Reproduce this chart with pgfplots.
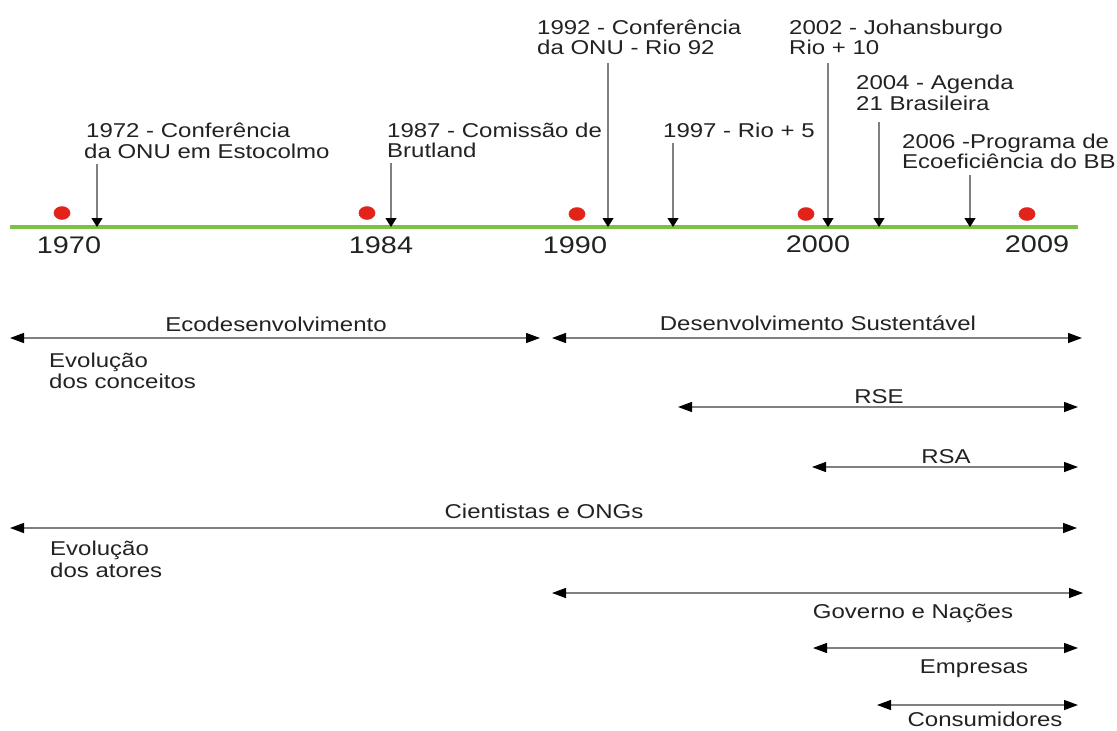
\documentclass[border=0pt]{standalone}
\usepackage{fontspec}
\setmainfont{Liberation Sans}[FakeStretch=1.2]
\usepackage{pgfplots}
\pgfplotsset{compat=1.18}
\usetikzlibrary{arrows.meta}
\definecolor{tlgreen}{HTML}{7CC242}
\definecolor{dotred}{HTML}{E2231A}
\definecolor{txt}{HTML}{222222}
\definecolor{ln}{HTML}{808080}
\newcommand\lab{\fontsize{20}{24}\selectfont}
\newcommand\yr{\fontsize{24}{28}\selectfont}
\tikzset{
  L/.style={inner sep=0pt, text=txt, font=\lab},
  Y/.style={inner sep=0pt, text=txt, font=\yr},
  harrow/.style={ln, line width=1.3pt, {Triangle[length=14pt,width=10pt,color=black]}-{Triangle[length=14pt,width=10pt,color=black]}},
  varrow/.style={ln, line width=1.2pt, -{Triangle[length=9pt,width=11pt,color=black]}}}
\begin{document}
\begin{tikzpicture}
\begin{axis}[scale only axis, width=1117pt, height=731pt,
  xmin=0, xmax=1117, ymin=0, ymax=731, y dir=reverse,
  hide axis, clip=false]
% timeline
\addplot[tlgreen, line width=4pt] coordinates {(10,227) (1078,227)};
% event arrows
\addplot[varrow] coordinates {(97,164) (97,227)};
\addplot[varrow] coordinates {(391,163) (391,227)};
\addplot[varrow] coordinates {(608,63) (608,227)};
\addplot[varrow] coordinates {(673,143) (673,227)};
\addplot[varrow] coordinates {(828,63) (828,227)};
\addplot[varrow] coordinates {(879,122) (879,227)};
\addplot[varrow] coordinates {(970,175) (970,227)};
% red dots
\addplot[only marks, mark=*, mark size=6.5pt, color=dotred, mark options={xscale=1.25}]
  coordinates {(62,213) (367,213) (577,214) (806,214) (1027,214)};
% period arrows
\addplot[harrow] coordinates {(10,338) (540,338)};
\addplot[harrow] coordinates {(552,338) (1082,338)};
\addplot[harrow] coordinates {(678,407) (1078,407)};
\addplot[harrow] coordinates {(812,467) (1078,467)};
\addplot[harrow] coordinates {(10,528) (1077,528)};
\addplot[harrow] coordinates {(552,593) (1083,593)};
\addplot[harrow] coordinates {(813,648) (1078,648)};
\addplot[harrow] coordinates {(877,705) (1078,705)};
% event labels
\node[L, anchor=base west] at (axis cs:86,137) {\lab 1972 - Conferência};
\node[L, anchor=base west] at (axis cs:84,158) {\lab da ONU em Estocolmo};
\node[L, anchor=base west] at (axis cs:387,137) {\lab 1987 - Comissão de};
\node[L, anchor=base west] at (axis cs:387,157) {\lab Brutland};
\node[L, anchor=base west] at (axis cs:537,34) {\lab 1992 - Conferência};
\node[L, anchor=base west] at (axis cs:537,54) {\lab da ONU - Rio 92};
\node[L, anchor=base west] at (axis cs:663,137) {\lab 1997 - Rio + 5};
\node[L, anchor=base west] at (axis cs:789,34) {\lab 2002 - Johansburgo};
\node[L, anchor=base west] at (axis cs:789,54) {\lab Rio + 10};
\node[L, anchor=base west] at (axis cs:856,89) {\lab 2004 - Agenda};
\node[L, anchor=base west] at (axis cs:856,110) {\lab 21 Brasileira};
\node[L, anchor=base west] at (axis cs:902,148) {\lab 2006 -Programa de};
\node[L, anchor=base west] at (axis cs:902,168) {\lab Ecoeficiência do BB};
% years
\node[Y, anchor=base] at (axis cs:69,253) {\yr 1970};
\node[Y, anchor=base] at (axis cs:381,253) {\yr 1984};
\node[Y, anchor=base] at (axis cs:575,253) {\yr 1990};
\node[Y, anchor=base] at (axis cs:818,252) {\yr 2000};
\node[Y, anchor=base] at (axis cs:1037,252) {\yr 2009};
% lower labels
\node[L, anchor=base] at (axis cs:276,331) {\lab Ecodesenvolvimento};
\node[L, anchor=base] at (axis cs:818,330) {\lab Desenvolvimento Sustentável};
\node[L, anchor=base west] at (axis cs:49,367) {\lab Evolução};
\node[L, anchor=base west] at (axis cs:49,388) {\lab dos conceitos};
\node[L, anchor=base] at (axis cs:879,403) {\lab RSE};
\node[L, anchor=base] at (axis cs:946,463) {\lab RSA};
\node[L, anchor=base] at (axis cs:544,518) {\lab Cientistas e ONGs};
\node[L, anchor=base west] at (axis cs:50,555) {\lab Evolução};
\node[L, anchor=base west] at (axis cs:50,577) {\lab dos atores};
\node[L, anchor=base] at (axis cs:913,618) {\lab Governo e Nações};
\node[L, anchor=base] at (axis cs:974,673) {\lab Empresas};
\node[L, anchor=base] at (axis cs:985,726) {\lab Consumidores};
\end{axis}
\pgfresetboundingbox
\path[use as bounding box] (0,0) rectangle (1117pt,731pt);
\end{tikzpicture}
\end{document}
